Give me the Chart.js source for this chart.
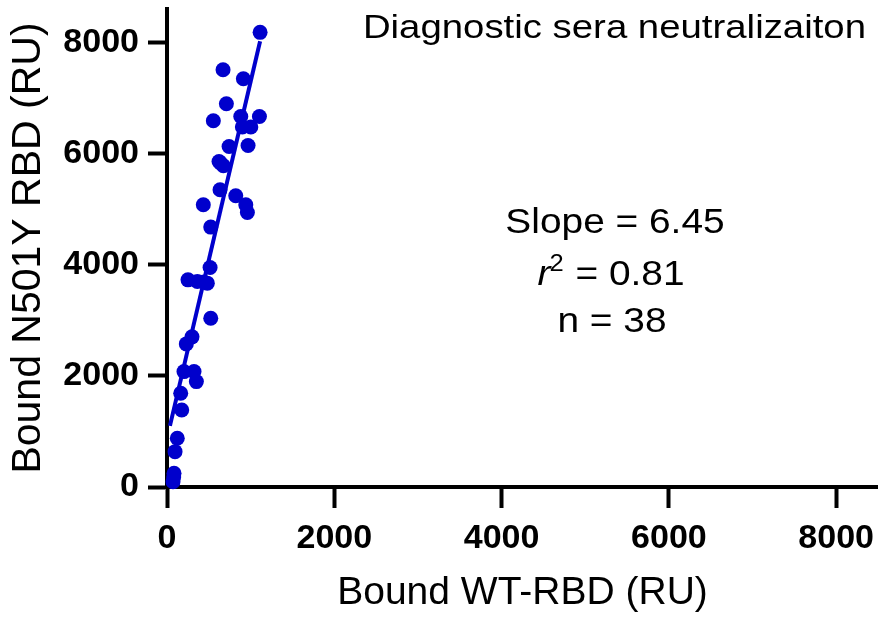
<!DOCTYPE html>
<html><head><meta charset="utf-8">
<script src="https://cdn.jsdelivr.net/npm/chart.js@4"></script>
<style>html,body{margin:0;padding:0;background:#fff;}#wrap{width:878px;height:617px;}</style>
</head><body><div id="wrap"><canvas id="c" width="878" height="617"></canvas></div>
<script>
// Data
const wtBound = [1113, 670, 913, 710, 554, 882, 1105, 901, 1002, 742, 969, 622, 674, 640, 634, 822, 942, 961, 434, 523,
  515, 251, 363, 440, 482, 523, 299, 231, 203, 323, 351, 164, 176, 123, 96, 84, 80, 72];
const n501yBound = [8180, 7508, 7346, 6896, 6590, 6667, 6667, 6476, 6476, 6127, 6145, 5857, 5780, 5830, 5348, 5239, 5077, 4939, 5077, 4676,
  3949, 3727, 3696, 3690, 3668, 3037, 2701, 2575, 2076, 2076, 1896, 1687, 1386, 877, 636, 247, 180, 95];
const fitX = [35, 1113];
const fitY = [1100, 8020];
const xTicks = [0, 2000, 4000, 6000, 8000];
const yTicks = [0, 2000, 4000, 6000, 8000];
const chartTitle = 'Diagnostic sera neutralizaiton';
const xTitle = 'Bound WT-RBD (RU)';
const yTitle = 'Bound N501Y RBD (RU)';
const slopeText = 'Slope = 6.45';
const r2Value = ' = 0.81';
const nText = 'n = 38';

const FAM = '"Liberation Sans", Arial, Helvetica, sans-serif';
const BLUE = '#0000CC';

const points = wtBound.map((x, i) => ({x: x, y: n501yBound[i]}));
const fitLine = fitX.map((x, i) => ({x: x, y: fitY[i]}));

function stretchText(ctx, text, x, y, font, sx, align) {
  ctx.save();
  ctx.font = font;
  const w = ctx.measureText(text).width * sx;
  let x0 = x;
  if (align === 'right') x0 = x - w; else if (align === 'center') x0 = x - w / 2;
  ctx.translate(x0, y);
  ctx.scale(sx, 1);
  ctx.textAlign = 'left';
  ctx.textBaseline = 'alphabetic';
  ctx.fillStyle = '#000';
  ctx.fillText(text, 0, 0);
  ctx.restore();
  return w;
}
function textW(ctx, text, font, sx) { ctx.save(); ctx.font = font; const w = ctx.measureText(text).width * sx; ctx.restore(); return w; }

const textPlugin = {
  id: 'texts',
  afterDraw(chart) {
    const ctx = chart.ctx;
    const ca = chart.chartArea;
    stretchText(ctx, chartTitle, ca.right - 12, 38, '34px ' + FAM, 1.128, 'right');
    const sx = 1.11;
    const f = '35px ' + FAM;
    stretchText(ctx, slopeText, 615, 233, f, sx, 'center');
    const fi = 'italic 35px ' + FAM, fs = '23px ' + FAM;
    const wr = textW(ctx, 'r', fi, sx), w2 = textW(ctx, '2', fs, sx), wv = textW(ctx, r2Value, f, sx);
    let x0 = 611 - (wr + w2 + wv) / 2;
    stretchText(ctx, 'r', x0, 285, fi, sx, 'left');
    stretchText(ctx, '2', x0 + wr - 1, 271, fs, sx, 'left');
    stretchText(ctx, r2Value, x0 + wr + w2, 285, f, sx, 'left');
    stretchText(ctx, nText, 612, 332, f, sx, 'center');
  }
};

new Chart(document.getElementById('c'), {
  type: 'scatter',
  data: {
    datasets: [
      {data: points, backgroundColor: BLUE, borderWidth: 0, pointRadius: 7.5, pointHoverRadius: 7.5, clip: false, order: 1},
      {data: fitLine, showLine: true, borderColor: BLUE, borderWidth: 4, pointRadius: 0, fill: false, order: 2}
    ]
  },
  options: {
    responsive: false,
    devicePixelRatio: 1,
    animation: false,
    layout: {autoPadding: false, padding: {top: 9, right: 0, left: 0, bottom: 0}},
    plugins: {legend: {display: false}, tooltip: {enabled: false}, title: {display: false}},
    scales: {
      x: {
        type: 'linear', min: 0, max: 8500,
        afterBuildTicks: s => { s.ticks = xTicks.map(v => ({value: v})); },
        afterFit: s => { s.height = 130; s.paddingLeft = 0; s.paddingRight = 0; s.paddingTop = 0; s.paddingBottom = 0; },
        grid: {drawOnChartArea: false, drawTicks: true, tickLength: 21, tickWidth: 4, tickColor: '#000'},
        border: {display: true, color: '#000', width: 4},
        ticks: {color: '#000', padding: 10, maxRotation: 0, autoSkip: false,
          font: {family: FAM, size: 34, weight: 'bold'}, callback: v => String(v)},
        title: {display: true, text: xTitle, color: '#000', font: {family: FAM, size: 39, lineHeight: 1}, padding: {top: 0, bottom: 4}}
      },
      y: {
        type: 'linear', min: 0, max: 8600,
        afterBuildTicks: s => { s.ticks = yTicks.map(v => ({value: v})); },
        afterFit: s => { s.width = 167; s.paddingLeft = 0; s.paddingRight = 0; s.paddingTop = 0; s.paddingBottom = 0; },
        grid: {drawOnChartArea: false, drawTicks: true, tickLength: 19, tickWidth: 4, tickColor: '#000'},
        border: {display: true, color: '#000', width: 4},
        ticks: {color: '#000', padding: 9, autoSkip: false,
          font: {family: FAM, size: 34, weight: 'bold'}, callback: v => String(v)},
        title: {display: true, text: yTitle, color: '#000', font: {family: FAM, size: 41, lineHeight: 1}, padding: {top: 8, bottom: 0}}
      }
    }
  },
  plugins: [textPlugin]
});
</script>
</body></html>
